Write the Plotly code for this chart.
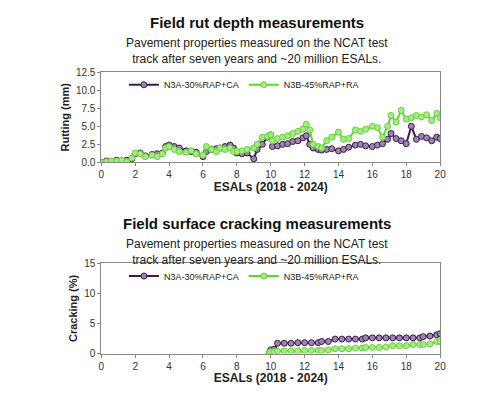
import plotly.graph_objects as go

rut_x = [0,0.3,0.6,0.9,1.2,1.5,1.8,2.0,2.3,2.6,3.0,3.3,3.6,3.8,4.0,4.3,4.6,5.0,5.3,5.6,6.0,6.2,6.5,6.8,7.0,7.3,7.6,7.8,8.0,8.3,8.6,9.0,9.2,9.5,9.8,10.0,10.1,10.4,10.7,11.0,11.3,11.6,11.9,12.1,12.3,12.5,12.8,13.0,13.3,13.6,14.0,14.3,14.6,15.0,15.3,15.6,16.0,16.3,16.6,16.9,17.1,17.4,17.7,18.0,18.3,18.6,18.9,19.2,19.5,19.8,20.0]
rut_a = [0,0.2,0.1,0.3,0.2,0.3,0.5,1.2,1.3,0.9,1.1,1.2,1.3,2.2,2.4,2.2,2.0,1.6,1.5,1.4,0.8,1.5,1.8,1.9,2.0,2.2,2.4,2.0,1.3,1.2,1.3,0.5,1.8,2.5,3.5,3.8,2.2,2.3,2.5,2.6,2.9,3.0,3.4,3.7,2.5,2.0,1.8,1.7,1.8,1.9,1.6,1.8,2.1,2.4,2.5,2.3,2.2,2.4,2.6,3.2,4.0,3.3,3.0,2.6,5.0,3.2,3.6,3.4,3.0,3.5,3.3]
rut_b = [0,0.1,0.2,0.2,0.3,0.1,0.6,1.3,1.2,0.8,1.0,0.8,1.2,2.0,2.2,1.8,1.5,1.4,1.6,1.2,1.0,2.2,1.8,1.5,2.0,1.8,2.0,1.5,1.5,1.6,1.8,2.0,2.5,3.5,3.6,3.8,3.0,3.3,3.5,3.7,4.0,4.3,4.6,5.3,4.5,2.5,2.2,2.0,3.0,3.5,4.2,3.2,3.3,4.5,4.3,4.6,5.0,4.8,3.5,5.0,6.5,5.6,7.2,6.0,6.2,6.5,6.3,6.6,5.8,6.8,6.2]

crk_x = [9.9,10.0,10.2,10.4,10.8,11.2,11.6,12.0,12.4,12.8,13.0,13.4,13.8,14.2,14.6,15.0,15.4,15.6,16.0,16.4,16.8,17.2,17.6,18.0,18.4,18.8,19.0,19.4,19.8,20.0]
crk_a = [0,0.6,0.7,1.7,1.7,1.7,1.8,1.8,1.8,1.8,2.0,2.0,2.4,2.4,2.4,2.4,2.4,2.6,2.6,2.6,2.6,2.6,2.6,2.6,2.6,2.6,2.8,2.9,3.1,3.3]
crk_b = [0,0.3,0.3,0.4,0.4,0.4,0.4,0.5,0.5,0.5,0.5,0.6,0.8,0.8,0.8,0.9,0.9,1.0,1.0,1.0,1.1,1.3,1.3,1.3,1.5,1.5,1.5,1.6,2.0,2.0]

names = ["N3A-30%RAP+CA", "N3B-45%RAP+RA"]
colors = ["#3d1a4f", "#5fd62e"]
fills = ["#9b86ad", "#a9e88a"]

fig = go.Figure()
def add(x, y, i, xa, ya, show):
    fig.add_trace(go.Scatter(x=x, y=y, name=names[i], xaxis=xa, yaxis=ya, mode="lines+markers",
        line=dict(color=colors[i], width=2), showlegend=show,
        marker=dict(symbol="circle", size=6, color=fills[i], line=dict(color=colors[i], width=1)),
        legend="legend" if xa == "x" else "legend2"))
add(rut_x, rut_a, 0, "x", "y", True)
add(rut_x, rut_b, 1, "x", "y", True)
add(crk_x, crk_a, 0, "x2", "y2", True)
add(crk_x, crk_b, 1, "x2", "y2", True)

ax = dict(showline=True, mirror=True, linecolor="#888", linewidth=1, showgrid=False, zeroline=False,
          ticks="outside", ticklen=3, tickcolor="#888", tickfont=dict(size=10, color="#333"))
fig.update_layout(
    width=500, height=400, margin=dict(l=0, r=0, t=0, b=0),
    paper_bgcolor="white", plot_bgcolor="white",
    font=dict(family="Liberation Sans", color="#222"),
    xaxis=dict(ax, domain=[0.184, 0.874], range=[0, 20], dtick=2, anchor="y",
               title=dict(text="<b>ESALs (2018 - 2024)</b>", font=dict(size=12), standoff=2)),
    yaxis=dict(ax, domain=[0.6175, 0.85], range=[0, 12.5], dtick=2.5, anchor="x", tickformat=".1f",
               title=dict(text="<b>Rutting (mm)</b>", font=dict(size=11), standoff=4)),
    xaxis2=dict(ax, domain=[0.184, 0.874], range=[0, 20], dtick=2, anchor="y2",
                title=dict(text="<b>ESALs (2018 - 2024)</b>", font=dict(size=12), standoff=2)),
    yaxis2=dict(ax, domain=[0.125, 0.3575], range=[0, 15], dtick=5, anchor="x2",
                title=dict(text="<b>Cracking (%)</b>", font=dict(size=11), standoff=4)),
    legend=dict(orientation="h", x=0.23, y=0.855, xanchor="left", yanchor="top",
                font=dict(size=9), bgcolor="rgba(0,0,0,0)", itemwidth=30, tracegroupgap=0),
    legend2=dict(orientation="h", x=0.23, y=0.362, xanchor="left", yanchor="top",
                 font=dict(size=9), bgcolor="rgba(0,0,0,0)", itemwidth=30),
)
sub = "Pavement properties measured on the NCAT test<br>track after seven years and ~20 million ESALs."
for ty, sy, t in [(9, 21, "Field rut depth measurements"), (216, 228, "Field surface cracking measurements")]:
    fig.add_annotation(text="<b>" + t + "</b>", x=0.5, y=1 - ty / 400, xref="paper", yref="paper",
                       showarrow=False, font=dict(size=15, color="#111"), yanchor="middle")
    fig.add_annotation(text=sub, x=0.5, y=1 - sy / 400, xref="paper", yref="paper", showarrow=False,
                       font=dict(size=12, color="#222"), yanchor="top")
fig.write_html("out.html")
